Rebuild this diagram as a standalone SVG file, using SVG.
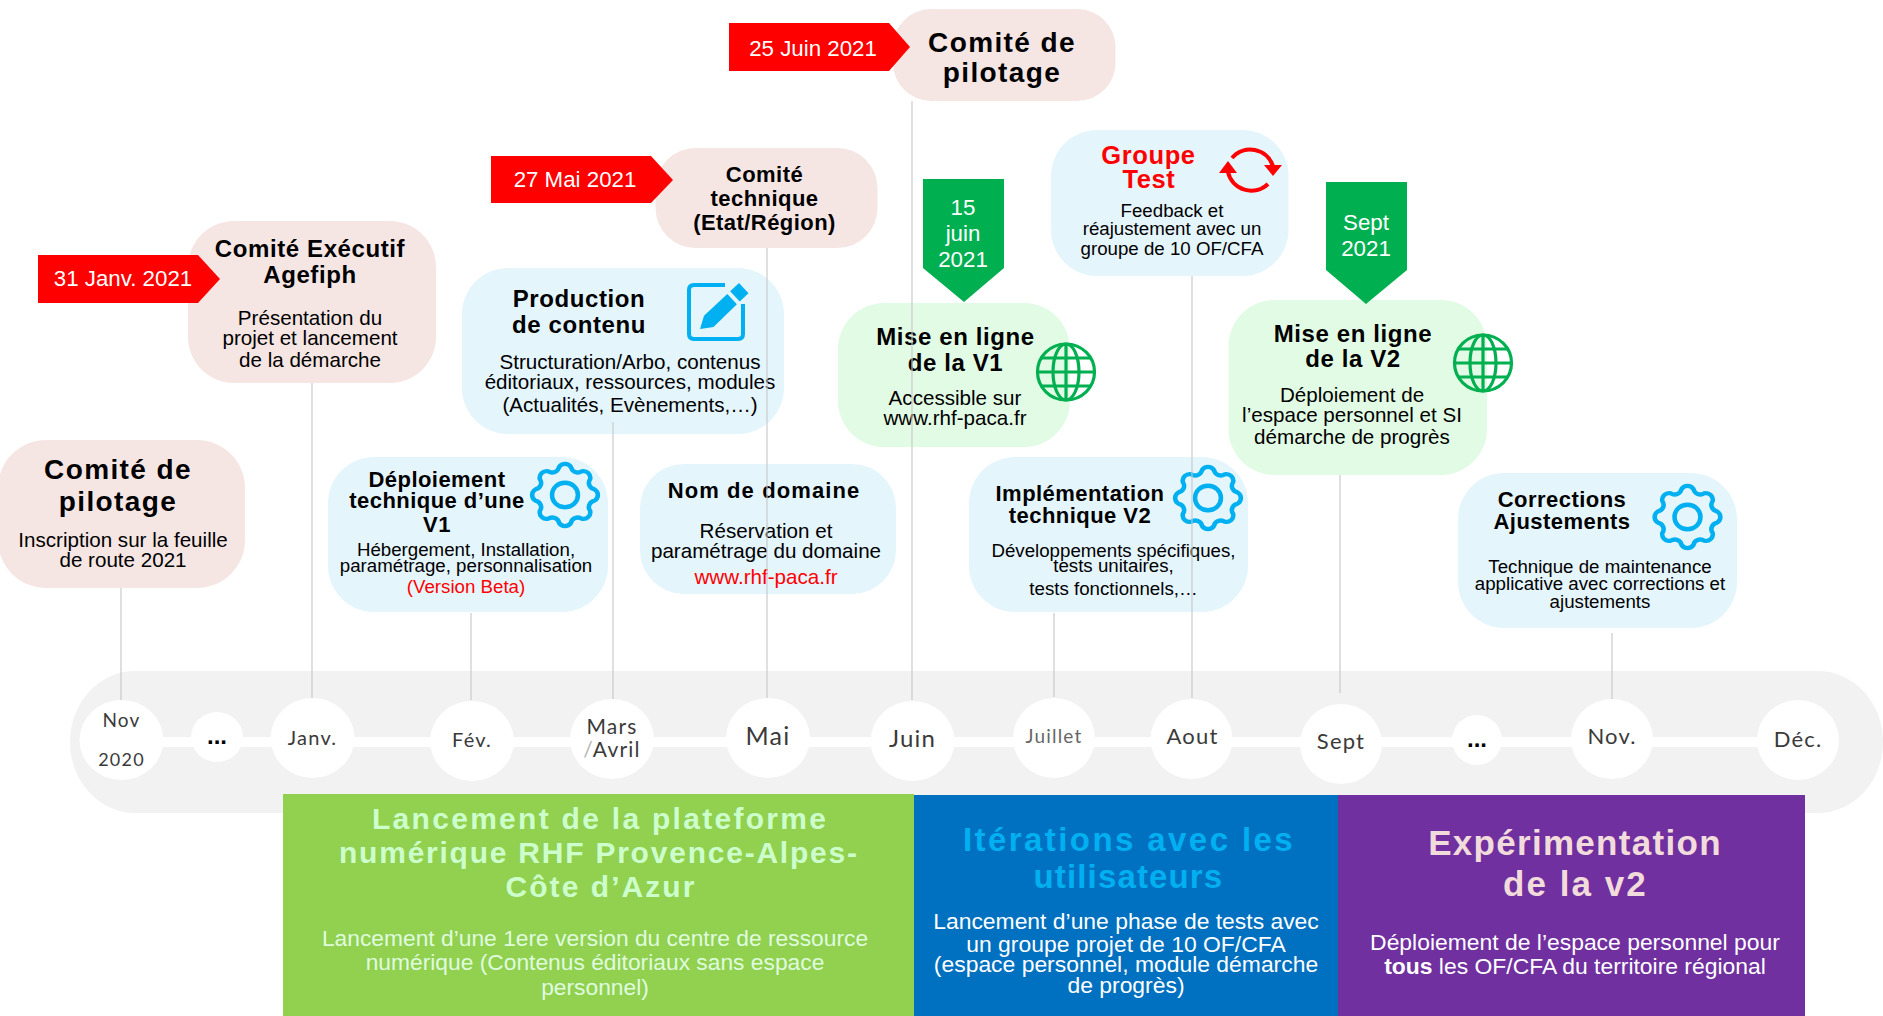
<svg xmlns="http://www.w3.org/2000/svg" width="1883" height="1016" viewBox="0 0 1883 1016">
<style>
text{font-family:"Liberation Sans",Arial,sans-serif;text-anchor:middle;fill:#000}
.pink{fill:#F5E6E4}.blue{fill:#E5F5FC}.green{fill:#E2FBE4}
.t28{font-size:28px;font-weight:700;letter-spacing:1.4px}
.t24{font-size:24px;font-weight:700;letter-spacing:.6px}
.t22{font-size:22px;font-weight:700;letter-spacing:.45px}
.b20{font-size:20.6px}.b18{font-size:18.7px}
.flag{font-size:22.3px;fill:#fff}
.red{fill:#FF0000}
.m{font-family:"Lato",sans-serif;fill:#3a3a3a;letter-spacing:1.2px}
.d{font-weight:700;font-size:24px}
.dot{fill:#fff}
.g1{fill:#CCFFCC;font-size:30px;font-weight:700;letter-spacing:2.1px}
.g2{fill:#DFFCDF;font-size:22.8px}
.b1{fill:#00B0F0;font-size:33px;font-weight:700;letter-spacing:2.3px}
.w{fill:#fff;font-size:22.9px}
.p1{fill:#F2DCDB;font-size:35px;font-weight:700;letter-spacing:1.3px}
.ln{stroke:#C8C8C8;stroke-opacity:.7;stroke-width:1.6;fill:none}
.gear{fill:none;stroke:#00B0F0;stroke-width:4.2}
.globe{fill:none;stroke:#00B050;stroke-width:3.2}
</style>
<defs>
<g id="gear" class="gear">
<path d="M27.46 -5.46A6.5 6.5 0 0 1 27.46 5.46A6.5 6.5 0 0 0 23.28 15.56A6.5 6.5 0 0 1 15.56 23.28A6.5 6.5 0 0 0 5.46 27.46A6.5 6.5 0 0 1 -5.46 27.46A6.5 6.5 0 0 0 -15.56 23.28A6.5 6.5 0 0 1 -23.28 15.56A6.5 6.5 0 0 0 -27.46 5.46A6.5 6.5 0 0 1 -27.46 -5.46A6.5 6.5 0 0 0 -23.28 -15.56A6.5 6.5 0 0 1 -15.56 -23.28A6.5 6.5 0 0 0 -5.46 -27.46A6.5 6.5 0 0 1 5.46 -27.46A6.5 6.5 0 0 0 15.56 -23.28A6.5 6.5 0 0 1 23.28 -15.56A6.5 6.5 0 0 0 27.46 -5.46Z"/>
<circle r="12"/>
</g>
<g id="globe" class="globe">
<ellipse rx="28.5" ry="28"/>
<ellipse rx="13" ry="28"/>
<path d="M0 -28V28M-28.5 0H28.5M-24 -14H24M-24 14H24"/>
</g>
</defs>

<g id="timeline-band">
<rect x="70" y="671" width="1813" height="142" rx="65" ry="71" fill="#F2F2F2"/>
<rect x="121" y="737" width="1677" height="10" fill="#fff"/>
</g>

<g id="node-comite-pilotage-1">
<rect class="pink" x="-2" y="440" width="247" height="148" rx="48"/>
<text class="t28" x="118" y="479">Comité de</text>
<text class="t28" x="118" y="511">pilotage</text>
<text class="b20" x="123" y="547">Inscription sur la feuille</text>
<text class="b20" x="123" y="567">de route 2021</text>
</g>

<g id="node-comite-executif">
<rect class="pink" x="188" y="221" width="248" height="162" rx="46"/>
<text class="t24" x="310" y="257">Comité Exécutif</text>
<text class="t24" x="310" y="283">Agefiph</text>
<text class="b20" x="310" y="325">Présentation du</text>
<text class="b20" x="310" y="345">projet et lancement</text>
<text class="b20" x="310" y="367">de la démarche</text>
</g>
<g id="flag-31-janv">
<polygon class="red" points="38,255 198,255 220,279 198,303 38,303"/>
<text class="flag" x="123" y="286">31 Janv. 2021</text>
</g>

<g id="node-production">
<rect class="blue" x="462" y="268" width="322" height="166" rx="46"/>
<text class="t24" x="579" y="307">Production</text>
<text class="t24" x="579" y="333">de contenu</text>
<text class="b20" x="630" y="369">Structuration/Arbo, contenus</text>
<text class="b20" x="630" y="389">éditoriaux, ressources, modules</text>
<text class="b20" x="630" y="412">(Actualités, Evènements,…)</text>
<g id="icon-pencil">
<path d="M725 285H694Q689 285 689 290V334Q689 339 694 339H738Q743 339 743 334V304" fill="none" stroke="#00B0F0" stroke-width="4"/>
<polygon points="700,329 704,315.7 727.3,294 736.9,304.2 713.5,326.9" fill="#00B0F0"/>
<polygon points="730.2,291.3 739,283.1 748.5,293.3 739.7,301.5" fill="#00B0F0"/>
</g>
</g>

<g id="node-comite-technique">
<rect class="pink" x="655.5" y="148" width="222" height="100" rx="40"/>
<text class="t22" x="764.5" y="182">Comité</text>
<text class="t22" x="764.5" y="206">technique</text>
<text class="t22" x="764.5" y="230">(Etat/Région)</text>
</g>
<g id="flag-27-mai">
<polygon class="red" points="491,156 651,156 673,180 651,203 491,203"/>
<text class="flag" x="575" y="187">27 Mai 2021</text>
</g>

<g id="node-comite-pilotage-2">
<rect class="pink" x="893" y="9" width="222.500" height="92" rx="38"/>
<text class="t28" x="1002" y="52">Comité de</text>
<text class="t28" x="1002" y="82">pilotage</text>
</g>
<g id="flag-25-juin">
<polygon class="red" points="729,23 889,23 910,47 889,71 729,71"/>
<text class="flag" x="813" y="56">25 Juin 2021</text>
</g>

<g id="node-deploiement-v1">
<rect class="blue" x="328" y="457" width="280" height="155" rx="46"/>
<text class="t22" x="437" y="487">Déploiement</text>
<text class="t22" x="437" y="508">technique d’une</text>
<text class="t22" x="437" y="532">V1</text>
<text class="b18" x="466" y="556">Hébergement, Installation,</text>
<text class="b18" x="466" y="572">paramétrage, personnalisation</text>
<text class="b18" x="466" y="593" style="fill:#FF0000">(Version Beta)</text>
<use href="#gear" transform="translate(565 495) scale(1.08 1.02)"/>
</g>

<g id="node-nom-domaine">
<rect class="blue" x="640" y="464" width="256" height="130" rx="44"/>
<text class="t22" x="764" y="498" style="letter-spacing:1.1px">Nom de domaine</text>
<text class="b20" x="766" y="538">Réservation et</text>
<text class="b20" x="766" y="558">paramétrage du domaine</text>
<text class="b20" x="766" y="584" style="fill:#FF0000">www.rhf-paca.fr</text>
</g>

<g id="node-mise-en-ligne-v1">
<rect class="green" x="838" y="303" width="232" height="144" rx="46"/>
<text class="t24" x="955.5" y="345">Mise en ligne</text>
<text class="t24" x="955.5" y="371">de la V1</text>
<text class="b20" x="955" y="405">Accessible sur</text>
<text class="b20" x="955" y="425">www.rhf-paca.fr</text>
<use href="#globe" transform="translate(1066 372)"/>
</g>
<g id="flag-15-juin">
<polygon points="923,179 1004,179 1004,268 964,302 923,268" fill="#00B050"/>
<text class="flag" x="963" y="215">15</text>
<text class="flag" x="963" y="241">juin</text>
<text class="flag" x="963" y="267">2021</text>
</g>

<g id="node-groupe-test">
<rect class="blue" x="1051" y="130" width="237.500" height="146" rx="46"/>
<text class="t24" x="1148.500" y="164" style="fill:#FF0000;font-size:25.5px">Groupe</text>
<text class="t24" x="1149" y="188" style="fill:#FF0000;font-size:25.5px">Test</text>
<text class="b18" x="1172" y="217">Feedback et</text>
<text class="b18" x="1172" y="235">réajustement avec un</text>
<text class="b18" x="1172" y="255">groupe de 10 OF/CFA</text>
<g id="icon-refresh">
<path d="M1232 158A24 24 0 0 1 1273 166M1228 172A24 24 0 0 0 1268 184" fill="none" stroke="#FF0000" stroke-width="4"/>
<polygon class="red" points="1264,165 1282,165 1273,176"/>
<polygon class="red" points="1219,173 1237,173 1228,161"/>
</g>
</g>

<g id="node-implementation-v2">
<rect class="blue" x="969" y="457" width="279" height="155" rx="46"/>
<text class="t22" x="1080" y="501">Implémentation</text>
<text class="t22" x="1080" y="523">technique V2</text>
<text class="b18" x="1113.500" y="557">Développements spécifiques,</text>
<text class="b18" x="1113.500" y="572">tests unitaires,</text>
<text class="b18" x="1113.500" y="595">tests fonctionnels,…</text>
<use href="#gear" transform="translate(1208 498) scale(1.08 1.02)"/>
</g>

<g id="node-mise-en-ligne-v2">
<rect class="green" x="1228.500" y="300" width="258.500" height="175" rx="46"/>
<text class="t24" x="1353" y="342">Mise en ligne</text>
<text class="t24" x="1353" y="367">de la V2</text>
<text class="b20" x="1352" y="402">Déploiement de</text>
<text class="b20" x="1352" y="422">l’espace personnel et SI</text>
<text class="b20" x="1352" y="444">démarche de progrès</text>
<use href="#globe" transform="translate(1483 363)"/>
</g>
<g id="flag-sept">
<polygon points="1326,182 1407,182 1407,270 1366,304 1326,270" fill="#00B050"/>
<text class="flag" x="1366" y="230">Sept</text>
<text class="flag" x="1366" y="256">2021</text>
</g>

<g id="node-corrections">
<rect class="blue" x="1458" y="473" width="279" height="155" rx="46"/>
<text class="t22" x="1562" y="507">Corrections</text>
<text class="t22" x="1562" y="529">Ajustements</text>
<text class="b18" x="1600" y="573">Technique de maintenance</text>
<text class="b18" x="1600" y="590">applicative avec corrections et</text>
<text class="b18" x="1600" y="608">ajustements</text>
<use href="#gear" transform="translate(1687.500 517) scale(1.08 1.02)"/>
</g>

<g id="connectors">
<path class="ln" d="M121 588V700M312 383V698M471 613V700M613 422V699M767 248V698M912 101V700M1054 613V697M1192 276V698M1340 475V693M1612 633V699"/>
</g>

<g id="months">
<g id="m-nov-2020"><ellipse class="dot" cx="121.500" cy="740" rx="42" ry="40"/><text class="m" x="121.500" y="727" font-size="19">Nov</text><text class="m" x="121.500" y="766" font-size="18">2020</text></g>
<g id="m-dots-1"><ellipse class="dot" cx="217" cy="737" rx="26" ry="25"/><text class="d" x="217" y="744">...</text></g>
<g id="m-janv"><ellipse class="dot" cx="312.500" cy="738" rx="42" ry="40"/><text class="m" x="312.500" y="745" font-size="20">Janv.</text></g>
<g id="m-fev"><ellipse class="dot" cx="472" cy="741" rx="42" ry="40"/><text class="m" x="472" y="747" font-size="20">Fév.</text></g>
<g id="m-mars"><ellipse class="dot" cx="612" cy="739" rx="42" ry="40"/><text class="m" x="612" y="734" font-size="21">Mars</text><text class="m" x="612" y="757" font-size="21"><tspan fill="#B5B5B5">/</tspan>Avril</text></g>
<g id="m-mai"><ellipse class="dot" cx="768" cy="738" rx="42" ry="40"/><text class="m" x="768" y="745" font-size="25">Mai</text></g>
<g id="m-juin"><ellipse class="dot" cx="912.500" cy="741" rx="42" ry="40"/><text class="m" x="912.500" y="747" font-size="24">Juin</text></g>
<g id="m-juillet"><ellipse class="dot" cx="1054" cy="738" rx="41" ry="40"/><text class="m" x="1054" y="743" font-size="19" style="fill:#666">Juillet</text></g>
<g id="m-aout"><ellipse class="dot" cx="1191.500" cy="739" rx="41" ry="40"/><text class="m" x="1192.500" y="744" font-size="22">Aout</text></g>
<g id="m-sept"><ellipse class="dot" cx="1341" cy="744" rx="41" ry="40"/><text class="m" x="1341" y="749" font-size="22">Sept</text></g>
<g id="m-dots-2"><ellipse class="dot" cx="1477" cy="740" rx="25" ry="25"/><text class="d" x="1477" y="747">...</text></g>
<g id="m-nov"><ellipse class="dot" cx="1612" cy="739" rx="41" ry="40"/><text class="m" x="1612" y="744" font-size="22">Nov.</text></g>
<g id="m-dec"><ellipse class="dot" cx="1798" cy="740" rx="41" ry="40"/><text class="m" x="1798" y="747" font-size="22">Déc.</text></g>
</g>

<g id="phase-lancement">
<rect x="283" y="794" width="631" height="222" fill="#92D050"/>
<text class="g1" x="600" y="829" textLength="456">Lancement de la plateforme</text>
<text class="g1" x="599" y="863" textLength="520">numérique RHF Provence-Alpes-</text>
<text class="g1" x="601" y="897" textLength="191">Côte d’Azur</text>
<text class="g2" x="595" y="946">Lancement d’une 1ere version du centre de ressource</text>
<text class="g2" x="595" y="970">numérique (Contenus éditoriaux sans espace</text>
<text class="g2" x="595" y="995">personnel)</text>
</g>
<g id="phase-iterations">
<rect x="914" y="795" width="424" height="221" fill="#0070C0"/>
<text class="b1" x="1129" y="851" textLength="332">Itérations avec les</text>
<text class="b1" x="1129" y="888" textLength="191">utilisateurs</text>
<text class="w" x="1126" y="929">Lancement d’une phase de tests avec</text>
<text class="w" x="1126" y="952">un groupe projet de 10 OF/CFA</text>
<text class="w" x="1126" y="972">(espace personnel, module démarche</text>
<text class="w" x="1126" y="993">de progrès)</text>
</g>
<g id="phase-experimentation">
<rect x="1338" y="795" width="467" height="221" fill="#7030A0"/>
<text class="p1" x="1575" y="855">Expérimentation</text>
<text class="p1" x="1575" y="896" textLength="144">de la v2</text>
<text class="w" x="1575" y="950">Déploiement de l’espace personnel pour</text>
<text class="w" x="1575" y="974"><tspan font-weight="700">tous</tspan> les OF/CFA du territoire régional</text>
</g>
</svg>
